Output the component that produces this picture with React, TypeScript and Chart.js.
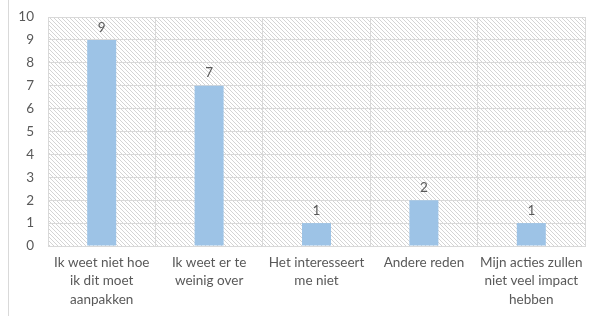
import React, { useEffect, useRef } from "react";
import { Chart, registerables } from "chart.js";

Chart.register(...registerables);

const categories: string[][] = [
  ["Ik weet niet hoe", "ik dit moet", "aanpakken"],
  ["Ik weet er te", "weinig over"],
  ["Het interesseert", "me niet"],
  ["Andere reden"],
  ["Mijn acties zullen", "niet veel impact", "hebben"],
];
const values: number[] = [9, 7, 1, 2, 1];
const yTicks: number[] = [0, 1, 2, 3, 4, 5, 6, 7, 8, 9, 10];

const FONT = "Lato, 'Open Sans', sans-serif";
const TEXT = "#595959";

function makePattern(): CanvasPattern | string {
  const c = document.createElement("canvas");
  c.width = 4;
  c.height = 4;
  const x = c.getContext("2d");
  if (!x) return "#fff";
  x.fillStyle = "#ffffff";
  x.fillRect(0, 0, 4, 4);
  x.strokeStyle = "#d4d4d4";
  x.lineWidth = 1;
  x.beginPath();
  x.moveTo(-1, -1);
  x.lineTo(5, 5);
  x.moveTo(-1, 3);
  x.lineTo(1, 5);
  x.moveTo(3, -1);
  x.lineTo(5, 1);
  x.stroke();
  const p = x.createPattern(c, "repeat");
  return p || "#fff";
}

const hatchPlugin = {
  id: "hatch",
  beforeDraw(chart: any) {
    const { ctx, chartArea } = chart;
    ctx.save();
    ctx.fillStyle = makePattern();
    ctx.fillRect(chartArea.left, chartArea.top, chartArea.right - chartArea.left, chartArea.bottom - chartArea.top);
    ctx.strokeStyle = "#d9d9d9";
    ctx.lineWidth = 1;
    ctx.beginPath();
    ctx.moveTo(8.5, 0);
    ctx.lineTo(8.5, chart.height);
    ctx.stroke();
    ctx.restore();
  },
};

const labelPlugin = {
  id: "barLabels",
  afterDatasetsDraw(chart: any) {
    const { ctx } = chart;
    const meta = chart.getDatasetMeta(0);
    ctx.save();
    ctx.fillStyle = TEXT;
    ctx.font = `13.5px ${FONT}`;
    ctx.textAlign = "center";
    ctx.textBaseline = "bottom";
    meta.data.forEach((bar: any, i: number) => {
      ctx.fillText(String(values[i]), bar.x, bar.y - 6);
    });
    ctx.restore();
  },
};

export default function App() {
  const ref = useRef<HTMLCanvasElement | null>(null);
  useEffect(() => {
    if (!ref.current) return;
    const chart = new Chart(ref.current, {
      type: "bar",
      data: {
        labels: categories,
        datasets: [
          {
            data: values,
            backgroundColor: "#9dc3e6",
            barPercentage: 0.27,
            categoryPercentage: 1,
          },
        ],
      },
      options: {
        animation: false,
        responsive: false,
        layout: { padding: { left: 0, right: 13, top: 17, bottom: 0 } },
        plugins: { legend: { display: false }, tooltip: { enabled: false } },
        scales: {
          x: {
            afterFit: (axis: any) => {
              axis.height = 70;
            },
            grid: { color: "#d9d9d9", lineWidth: 1, drawTicks: false, offset: true },
            border: { color: "#d9d9d9" },
            ticks: { color: TEXT, font: { family: FONT, size: 13.5, lineHeight: 1.34 }, padding: 8, maxRotation: 0, autoSkip: false },
          },
          y: {
            min: 0,
            max: 10,
            afterBuildTicks: (axis: any) => {
              axis.ticks = yTicks.map((v) => ({ value: v }));
            },
            afterFit: (axis: any) => {
              axis.width = 48;
              axis.paddingTop = 0;
            },
            grid: { color: "#d9d9d9", lineWidth: 1, drawTicks: false },
            border: { display: false },
            ticks: { color: TEXT, font: { family: FONT, size: 13.5 }, padding: 14 },
          },
        },
      },
      plugins: [hatchPlugin, labelPlugin],
    });
    return () => chart.destroy();
  }, []);
  return (
    <div style={{ position: "absolute", left: 0, top: 0, width: 598, height: 316, background: "#fff" }}>
      <canvas ref={ref} width={598} height={316} />
    </div>
  );
}
